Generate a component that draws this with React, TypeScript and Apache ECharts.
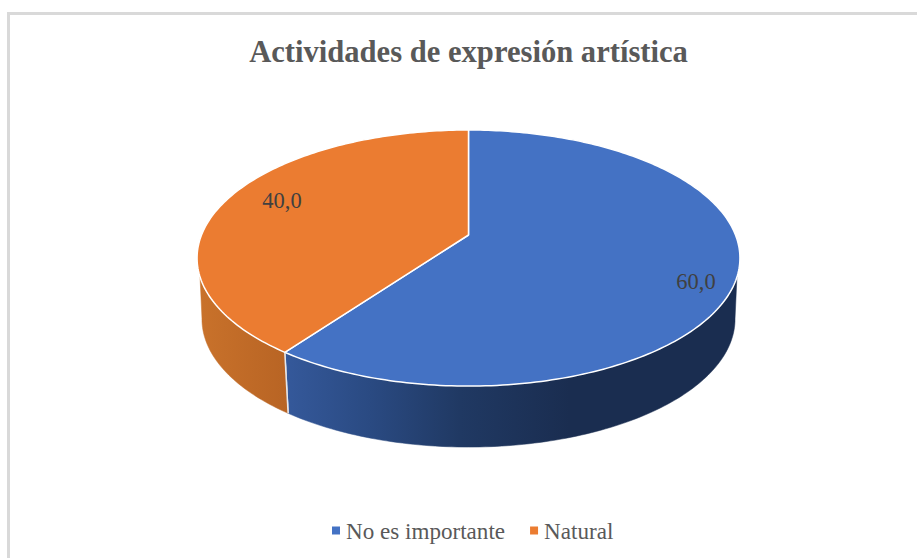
import React, { useEffect, useRef } from "react";
import * as echarts from "echarts";

const titleText = "Actividades de expresión artística";
const categories = ["No es importante", "Natural"];
const values = [60.0, 40.0];
const topColors = ["#4472c4", "#eb7c31"];

const FONT = '"Liberation Serif", "Times New Roman", serif';
const TOTAL = values.reduce((a, b) => a + b, 0);

// Perspective projection of the pie's disc onto the page
const CX = 468.5, APEX_Y = 235, A = 267, B = 123.9, K = 0.18;
const DEPTH = 61, SHRINK = 0.982;
const DEG = Math.PI / 180;

function project(deg: number, r = 1): [number, number] {
  const u = Math.sin(deg * DEG) * r;
  const v = -Math.cos(deg * DEG) * r;
  const d = 1 - K * v;
  return [CX + (A * u) / d, APEX_Y + (B * v) / d];
}
function projectLow(deg: number): [number, number] {
  const [x, y] = project(deg);
  return [CX + (x - CX) * SHRINK, y + DEPTH];
}
function arc(from: number, to: number, fn: (d: number) => [number, number]) {
  const n = Math.max(2, Math.ceil(Math.abs(to - from)));
  const pts: [number, number][] = [];
  for (let i = 0; i <= n; i++) pts.push(fn(from + ((to - from) * i) / n));
  return pts;
}

// angular limits of the visible wall, top rim and bottom rim
const VIS_TOP: [number, number] = [108.6, 251.4];
const VIS_LOW: [number, number] = [100, 260];

const sideGradients = [
  [
    [284, "#35599b"], [370, "#2a4a82"], [460, "#203963"], [570, "#1a2d50"], [740, "#1a2d50"],
  ],
  [
    [197, "#c9722b"], [288, "#b86424"],
  ],
] as [number, string][][];
const labelPlaces: [number, number][] = [[696, 281], [282, 200]];

function sliceRange(idx: number): [number, number] {
  const before = values.slice(0, idx).reduce((a, b) => a + b, 0);
  return [(before / TOTAL) * 360, ((before + values[idx]) / TOTAL) * 360];
}

function renderSlice(idx: number) {
  const [a, b] = sliceRange(idx);
  const top: [number, number][] = [[CX, APEX_Y], ...arc(a, b, (d) => project(d))];
  const tS = Math.max(a, VIS_TOP[0]), tE = Math.min(b, VIS_TOP[1]);
  const lS = Math.max(a, VIS_LOW[0]), lE = Math.min(b, VIS_LOW[1]);
  const side = [...arc(tS, tE, (d) => project(d)), ...arc(lE, lS, projectLow)];
  const stops = sideGradients[idx];
  const x0 = stops[0][0], x1 = stops[stops.length - 1][0];
  const fill = new echarts.graphic.LinearGradient(
    x0, 0, x1, 0,
    stops.map(([x, color]) => ({ offset: (x - x0) / (x1 - x0), color })),
    true
  );
  // white seam between the two wall segments
  const seamDeg = idx === 0 ? b : a;
  const children: any[] = [
    { type: "polygon", shape: { points: side }, style: { fill, stroke: fill, lineWidth: 0.5 } },
    {
      type: "polyline",
      shape: { points: [project(seamDeg), projectLow(seamDeg)] },
      style: { stroke: "#e4e7ee", lineWidth: 1.5, fill: "none" },
    },
    {
      type: "polygon",
      shape: { points: top },
      style: { fill: topColors[idx], stroke: "#ffffff", lineWidth: 1.5, lineJoin: "round" },
    },
    {
      type: "text",
      x: labelPlaces[idx][0],
      y: labelPlaces[idx][1],
      style: {
        text: values[idx].toFixed(1).replace(".", ","),
        fill: "#404040",
        font: `22.5px ${FONT}`,
        align: "center",
        verticalAlign: "middle",
      },
    },
  ];
  return { type: "group", children };
}

export default function App() {
  const ref = useRef<HTMLDivElement>(null);
  useEffect(() => {
    const chart = echarts.init(ref.current!, undefined, { renderer: "svg" });
    chart.setOption({
      animation: false,
      backgroundColor: "#ffffff",
      title: {
        text: titleText,
        left: 463.5,
        top: 31,
        textAlign: "center",
        textStyle: { fontFamily: FONT, fontSize: 30.6, fontWeight: "bold", color: "#595959" },
      },
      legend: {
        left: 332,
        top: 519,
        padding: 0,
        icon: "rect",
        itemWidth: 8,
        itemHeight: 8,
        itemGap: 25,
        data: categories,
        textStyle: { fontFamily: FONT, fontSize: 23.1, color: "#595959", padding: [0, 0, 0, 1] },
      },
      graphic: [
        { type: "rect", shape: { x: 7, y: 12, width: 910, height: 3 }, style: { fill: "#d9d9d9" }, silent: true },
        { type: "rect", shape: { x: 7, y: 12, width: 3, height: 546 }, style: { fill: "#d9d9d9" }, silent: true },
      ],
      series: categories.map((name, idx) => ({
        type: "custom",
        name,
        coordinateSystem: "none",
        itemStyle: { color: topColors[idx] },
        data: [values[idx]],
        renderItem: () => renderSlice(idx),
      })),
    });
    return () => chart.dispose();
  }, []);
  return <div ref={ref} style={{ position: "absolute", left: 0, top: 0, width: 917, height: 558 }} />;
}
